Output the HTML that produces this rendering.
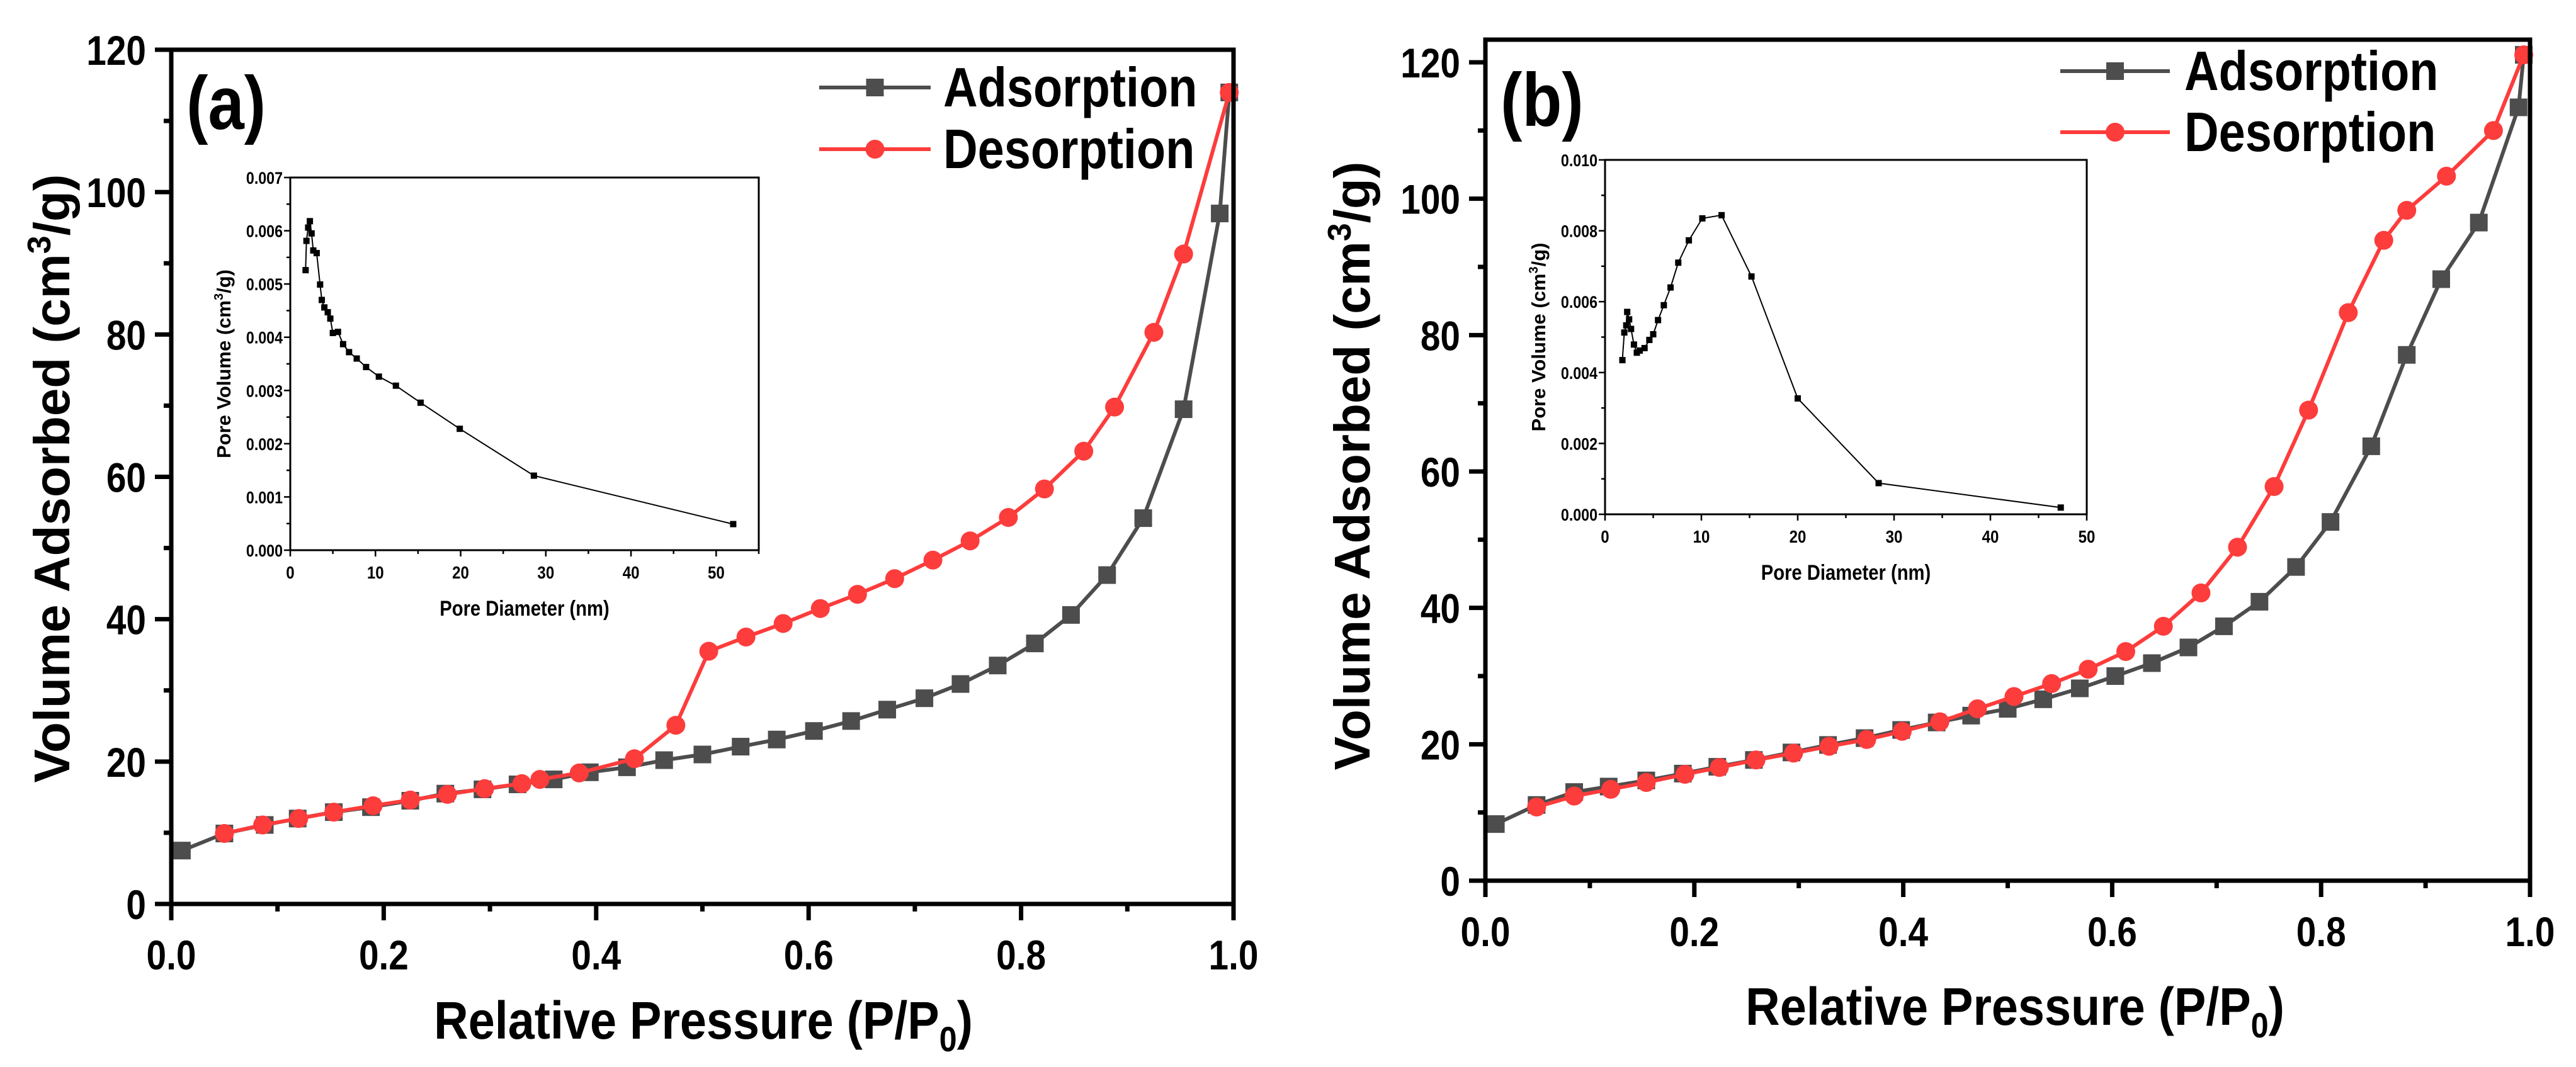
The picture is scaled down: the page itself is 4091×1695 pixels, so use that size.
<!DOCTYPE html>
<html><head><meta charset="utf-8">
<style>
html,body{margin:0;padding:0;background:#fff;}
svg{display:block;font-family:"Liberation Sans",Arial,sans-serif;font-weight:bold;}
</style></head>
<body>
<svg id="fig" width="4091" height="1695" viewBox="0 0 4091 1695" xmlns="http://www.w3.org/2000/svg"></svg>
<script>
// Panel (a) data
const aAdsX = [0.01,0.05,0.088,0.119,0.153,0.188,0.225,0.258,0.293,0.326,0.36,0.394,0.429,0.464,0.5,0.536,0.57,0.605,0.64,0.674,0.709,0.743,0.778,0.813,0.847,0.881,0.915,0.953,0.987,0.996];
const aAdsY = [7.5,9.9,11.1,12,12.9,13.6,14.5,15.5,16.1,16.8,17.5,18.5,19.2,20.2,21.0,22.1,23.1,24.3,25.7,27.3,28.9,30.9,33.5,36.6,40.6,46.2,54.2,69.5,97,114];
const aDesX = [0.996,0.953,0.925,0.888,0.859,0.822,0.788,0.752,0.717,0.681,0.646,0.611,0.576,0.541,0.506,0.475,0.436,0.384,0.347,0.33,0.295,0.26,0.225,0.19,0.153,0.12,0.086,0.05];
const aDesY = [114,91.3,80.3,69.8,63.6,58.3,54.3,51,48.3,45.7,43.5,41.5,39.4,37.5,35.5,25.1,20.4,18.4,17.5,16.9,16.2,15.4,14.6,13.8,12.9,12,11.1,9.9];
const aPoreX = [1.8,1.9,2.1,2.3,2.5,2.7,3.1,3.5,3.7,4.0,4.4,4.7,5.0,5.6,6.2,6.9,7.8,8.9,10.4,12.4,15.3,19.9,28.6,52];
const aPoreY = [0.00526,0.00581,0.00606,0.00618,0.00595,0.00563,0.00558,0.00499,0.0047,0.00456,0.00447,0.00435,0.00408,0.0041,0.00387,0.00372,0.0036,0.00344,0.00326,0.00309,0.00277,0.00228,0.0014,0.00049];
// Panel (b) data
const bAdsX = [0.01,0.049,0.085,0.118,0.154,0.189,0.222,0.257,0.293,0.328,0.363,0.398,0.432,0.465,0.5,0.534,0.569,0.603,0.638,0.673,0.707,0.741,0.776,0.809,0.848,0.882,0.915,0.951,0.989,0.994];
const bAdsY = [8.3,11.1,13,13.8,14.7,15.7,16.7,17.7,18.8,19.9,20.9,22.1,23.2,24.2,25.2,26.6,28.2,30,31.9,34.2,37.3,40.9,46,52.6,63.7,77.1,88.2,96.5,113.4,121.1];
const bDesX = [0.994,0.965,0.92,0.882,0.86,0.826,0.788,0.755,0.72,0.685,0.649,0.613,0.577,0.542,0.506,0.471,0.435,0.399,0.365,0.329,0.295,0.259,0.224,0.191,0.154,0.12,0.085,0.049];
const bDesY = [121.1,110,103.3,98.3,93.9,83.3,69,57.8,48.9,42.2,37.3,33.6,31,28.9,27,25.2,23.3,21.9,20.7,19.7,18.7,17.7,16.6,15.6,14.4,13.4,12.4,10.8];
const bPoreX = [1.8,2.0,2.2,2.3,2.5,2.7,3.0,3.3,3.6,4.1,4.6,5.0,5.5,6.1,6.8,7.6,8.7,10.1,12.1,15.2,20,28.4,47.3];
const bPoreY = [0.00435,0.00513,0.00533,0.00571,0.0055,0.00523,0.00479,0.00456,0.00462,0.00469,0.00492,0.00508,0.00548,0.0059,0.0064,0.0071,0.00773,0.00835,0.00844,0.00671,0.00327,0.00088,0.00019];
const mainXTicks = ["0.0","0.2","0.4","0.6","0.8","1.0"];
const aYTicks = [0,20,40,60,80,100,120];
const bYTicks = [0,20,40,60,80,100,120];
const insetXTicks = [0,10,20,30,40,50];
const aInsetYTicks = ["0.000","0.001","0.002","0.003","0.004","0.005","0.006","0.007"];
const bInsetYTicks = ["0.000","0.002","0.004","0.006","0.008","0.010"];

const NS="http://www.w3.org/2000/svg";
const svg=document.getElementById('fig');
const SX=0.86; // condensed look
function mk(tag,attrs,parent){const e=document.createElementNS(NS,tag);for(const k in attrs)e.setAttribute(k,attrs[k]);(parent||svg).appendChild(e);return e;}
function ctext(x,y,anchor,size,parent){return mk('text',{x:0,y:0,'text-anchor':anchor,'font-size':size,transform:`translate(${x},${y}) scale(${SX},1)`},parent);}
function lin(d0,d1,p0,p1){return v=>p0+(v-d0)/(d1-d0)*(p1-p0);}

function panel(o){
  const g=mk('g',{});
  
  
  const sx=lin(0,1,o.x0,o.x1), sy=lin(0,o.ymax,o.y0,o.ytop);
  function series(xs,ys,color,kind,name){
    const sg=mk('g',{},g);
    
    
    const pts=xs.map((x,i)=>sx(x).toFixed(1)+','+sy(ys[i]).toFixed(1)).join(' ');
    const pl=mk('polyline',{points:pts,fill:'none',stroke:color,'stroke-width':6,'stroke-linejoin':'round'},sg);
    
    
    xs.forEach((x,i)=>{
      let m;
      if(kind==='sq') m=mk('rect',{x:sx(x)-14,y:sy(ys[i])-14,width:28,height:28,fill:color},sg);
      else m=mk('circle',{cx:sx(x),cy:sy(ys[i]),r:15,fill:color},sg);
      
      
    });
  }
  series(o.adsX,o.adsY,'#4d4d4d','sq','adsorption-series');
  series(o.desX,o.desY,'#fd3c3c','ci','desorption-series');
  const fr=mk('rect',{x:o.x0,y:o.ytop0,width:o.x1-o.x0,height:o.y0-o.ytop0,fill:'none',stroke:'#000','stroke-width':7},g);
  
  
  for(let i=0;i<=10;i++){const v=i/10,X=sx(v),maj=i%2===0;
    const t=mk('line',{x1:X,x2:X,y1:o.y0,y2:o.y0+(maj?26:12),stroke:'#000','stroke-width':7},g);
    
    }
  mainXTicks.forEach(s=>{const t=ctext(sx(parseFloat(s)),o.y0+104,'middle',66,g);t.textContent=s;
    
    });
  for(let v=0;v<=o.ymax;v+=10){const Y=sy(v),maj=v%20===0;
    const t=mk('line',{x1:o.x0,x2:o.x0-(maj?26:12),y1:Y,y2:Y,stroke:'#000','stroke-width':7},g);
    
    }
  o.yTicks.forEach(v=>{const t=ctext(o.x0-40,sy(v)+24,'end',66,g);t.textContent=v;
    
    });
  const xt=mk('text',{x:0,y:0,'text-anchor':'middle','font-size':84,transform:`translate(${o.xtX},${o.xtY}) scale(0.9,1)`},g);
  
  
  xt.innerHTML='Relative Pressure (P/P<tspan font-size="56" dy="20">0</tspan><tspan dy="-20">)</tspan>';
  const yt=mk('text',{x:0,y:0,'text-anchor':'middle','font-size':80,transform:`translate(${o.ytX},${o.ytY}) rotate(-90)`},g);
  
  
  yt.innerHTML='Volume Adsorbed (cm<tspan font-size="52" dy="-30">3</tspan><tspan dy="30">/g)</tspan>';
  const pl=ctext(o.lblX,o.lblY,'start',120,g);pl.textContent=o.lbl;
  
  
  [['Adsorption','#4d4d4d','sq',o.legY1],['Desorption','#fd3c3c','ci',o.legY2]].forEach(([txt,c,k,y])=>{
    const lg=mk('g',{},g);
    
    
    mk('line',{x1:o.legX1,x2:o.legX2,y1:y,y2:y,stroke:c,'stroke-width':6},lg);
    const mx=(o.legX1+o.legX2)/2;
    if(k==='sq')mk('rect',{x:mx-14,y:y-14,width:28,height:28,fill:c},lg);else mk('circle',{cx:mx,cy:y,r:15,fill:c},lg);
    const t=ctext(o.legTX,y+30,'start',88,lg);t.textContent=txt;
  });
  const ig=mk('g',{},g);
  
  
  const I=o.inset, ix=lin(0,I.xmax,I.x0,I.x1), iy=lin(0,I.ymax,I.y0,I.y1);
  const ipts=I.px.map((x,i)=>ix(x).toFixed(1)+','+iy(I.py[i]).toFixed(1)).join(' ');
  const ipl=mk('polyline',{points:ipts,fill:'none',stroke:'#000','stroke-width':2},ig);
  
  
  I.px.forEach((x,i)=>{const r=mk('rect',{x:ix(x)-5,y:iy(I.py[i])-5,width:10,height:10,fill:'#000'},ig);
    
    });
  const ifr=mk('rect',{x:I.x0,y:I.y1,width:I.x1-I.x0,height:I.y0-I.y1,fill:'none',stroke:'#000','stroke-width':3},ig);
  
  
  for(let v=0;v<=I.xmax+0.01;v+=5){const X=ix(v),maj=v%10===0;
    mk('line',{x1:X,x2:X,y1:I.y0,y2:I.y0+(maj?10:6),stroke:'#000','stroke-width':2.5},ig);}
  insetXTicks.forEach(v=>{const t=ctext(ix(v),I.y0+45,'middle',28,ig);t.textContent=v;
    
    });
  const step=I.ymax/(I.yt.length-1);
  for(let k=0;k<=2*(I.yt.length-1);k++){const Y=iy(k*step/2);
    mk('line',{x1:I.x0,x2:I.x0-(k%2===0?10:6),y1:Y,y2:Y,stroke:'#000','stroke-width':2.5},ig);}
  I.yt.forEach(s=>{const t=ctext(I.x0-12,iy(parseFloat(s))+10,'end',27,ig);t.textContent=s;
    
    });
  const ixt=ctext((I.x0+I.x1)/2,I.y0+104,'middle',34,ig);ixt.textContent='Pore Diameter (nm)';
  
  
  const iyt=mk('text',{x:0,y:0,'text-anchor':'middle','font-size':31,transform:`translate(${I.x0-95},${(I.y0+I.y1)/2}) rotate(-90)`},ig);
  iyt.innerHTML='Pore Volume (cm<tspan font-size="20" dy="-12">3</tspan><tspan dy="12">/g)</tspan>';
  
  
}

panel({name:'panel-a',x0:272,x1:1959,y0:1436,ytop:79,ytop0:79,ymax:120,yTicks:aYTicks,
  adsX:aAdsX,adsY:aAdsY,desX:aDesX,desY:aDesY,
  xtX:1117,xtY:1650,ytX:110,ytY:760,lbl:'(a)',lblX:296,lblY:205,
  legX1:1301,legX2:1478,legY1:139,legY2:237,legTX:1498,
  inset:{x0:461,x1:1205,y0:874,y1:282,xmax:55,ymax:0.007,px:aPoreX,py:aPoreY,yt:aInsetYTicks}});
panel({name:'panel-b',x0:2359,x1:4018,y0:1399,ytop:99,ytop0:63,ymax:120,yTicks:bYTicks,
  adsX:bAdsX,adsY:bAdsY,desX:bDesX,desY:bDesY,
  xtX:3200,xtY:1628,ytX:2175,ytY:740,lbl:'(b)',lblX:2383,lblY:200,
  legX1:3272,legX2:3446,legY1:113,legY2:210,legTX:3469,
  inset:{x0:2549,x1:3314,y0:817,y1:254,xmax:50,ymax:0.010,px:bPoreX,py:bPoreY,yt:bInsetYTicks}});
</script>
</body></html>
